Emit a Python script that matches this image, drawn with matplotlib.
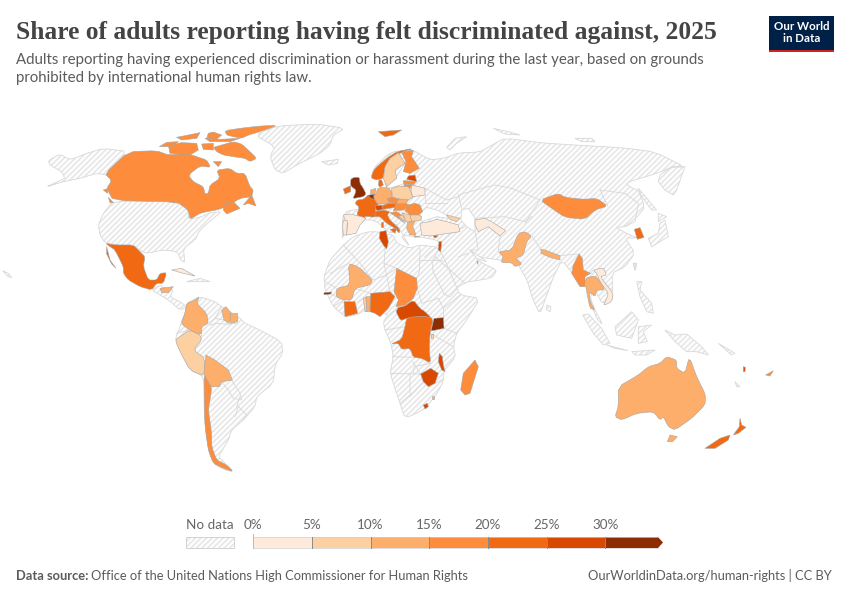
import matplotlib
matplotlib.use("Agg")
import matplotlib.pyplot as plt
from matplotlib.patches import Polygon, Rectangle
import numpy as np

# ---------- data ----------
countries = ["Canada","Mexico","Honduras","Cuba","Colombia","Peru","Bolivia","Chile","Guyana","Suriname",
 "Mali","Ivory Coast","Togo","Benin","Nigeria","Chad","CAR","DRC","Uganda","Burundi","Malawi","Zimbabwe",
 "Madagascar","Lesotho","Eswatini","Gambia","Tunisia",
 "Iceland","Norway","Sweden","Finland","Estonia","Latvia","Lithuania","Denmark","UK","Ireland","France","Netherlands","Belgium",
 "Spain","Portugal","Germany","Poland","Belarus","Czechia","Slovakia","Switzerland","Austria","Hungary","Romania","Bulgaria","Italy",
 "Croatia","Bosnia","Serbia","Greece","Turkey","Cyprus",
 "Georgia","Israel","Lebanon","Turkmenistan","Qatar","Mongolia","South Korea","Pakistan","Nepal","Myanmar","Thailand","Vietnam",
 "Australia","New Zealand","Fiji","Vanuatu"]
values = [17,22,12,3,13,8,12,18,13,12,
 12,22,9,12,22,18,27,22,33,8,27,27,
 17,27,12,33,27,
 22,22,8,17,27,18,18,22,33,22,22,12,33,
 3,3,12,8,3,17,12,27,22,18,18,9,22,
 17,8,8,12,3,18,
 8,27,27,3,12,18,24,12,12,18,12,3,
 12,24,18,27]
bin_edges = [0,5,10,15,20,25,30]
bin_colors = ["#feeadb","#fdd0a2","#fdae6b","#fd8d3c","#f16913","#d94801","#8c2d04"]
tick_labels = ["0%","5%","10%","15%","20%","25%","30%"]

title = "Share of adults reporting having felt discriminated against, 2025"
sub1 = "Adults reporting having experienced discrimination or harassment during the last year, based on grounds"
sub2 = "prohibited by international human rights law."

# outlines: frame name -> origin of the traced sheet (sheet units are 1/3 px)
FR = {"A":(0,110),"B":(425,110),"C":(100,290),"D":(310,250),"E":(330,120),"F":(560,240),"P":None}
def tr(fr,pts,smooth=True):
    a=np.array(pts,float)
    if FR[fr] is not None:
        a=a/3+np.array(FR[fr])
    if smooth and len(a)>=10:
        b=np.roll(a,-1,axis=0); c=0.18
        a=np.column_stack([(1-c)*a+c*b,c*a+(1-c)*b]).reshape(-1,2)
    return a

land = [
("A",[(135,232),(180,212),(195,205),(185,185),(150,165),(145,152),(180,132),(210,150),(260,130),(310,115),(385,125),(315,190),(340,215),(320,195),(290,190),(240,205),(190,215)]),
("A",[(765,75),(830,48),(950,42),(1035,55),(1000,75),(990,105),(960,130),(890,165),(850,190),(825,180),(810,140),(825,110)]),
("A",[(965,155),(1015,148),(1012,160),(985,165)]),
("A",[(340,272),(530,276),(565,300),(565,328),(600,322),(630,308),(665,305),(640,325),(600,360),(585,390),(550,415),(555,458),(542,450),(532,425),(490,420),(440,430),(420,422),(400,405),(345,405),(315,398),(300,375),(295,345),(310,310)]),
("A",[(455,540),(480,525),(495,535),(520,540),(510,560),(540,575),(560,590),(540,600),(505,570),(480,555)]),
("A",[(8,482),(25,490),(35,503),(25,500)]),
("A",[(560,515),(600,505),(630,515),(600,515)]),
("C",[(298,20),(345,35),(365,50),(415,80),(435,100),(470,115),(545,155),(548,190),(525,225),(520,280),(470,320),(465,350),(430,390),(395,420),(385,450),(355,500),(375,520),(400,545),(375,540),(340,520),(325,480),(315,400),(312,340),(312,260),(270,240),(225,150),(240,110),(243,100),(255,70),(260,40)]),
("D",[(45,70),(60,30),(100,-15),(130,-40),(170,-54),(200,-55),(215,-50),(250,-45),(260,-20),(300,-5),(330,-15),(381,-9),(400,20),(435,100),(450,135),(510,145),(470,210),(440,250),(430,290),(437,320),(400,365),(400,395),(375,440),(340,480),(285,505),(270,460),(240,370),(250,320),(243,280),(225,240),(220,215),(235,195),(200,185),(165,180),(140,195),(105,200),(70,170),(45,120),(42,85)]),
("P",[(413,150),(430,160),(445,158),(458,153),(480,152),(492,145),(505,138),(542,143),(575,145),(625,148),(655,152),(685,167),(672,167),(658,173),(625,183),(632,188),(638,190),(645,207),(637,217),(625,227),(615,227),(630,235),(638,238),(625,238),(635,253),(625,267),(612,273),(613,293),(603,305),(595,290),(590,297),(595,310),(603,325),(596,318),(585,283),(572,273),(562,260),(553,278),(545,300),(540,314),(533,300),(527,280),(520,268),(518,262),(500,260),(478,257),(470,250),(480,262),(497,270),(492,278),(462,283),(447,300),(430,265),(441,245),(437,240),(420,237),(400,235),(410,247),(403,235),(395,222),(392,235),(375,220),(355,220),(345,230),(342,240),(343,212),(365,208),(372,195),(388,192),(385,175),(375,180),(372,170),(390,152)]),
("B",[(740,170),(780,170),(755,240),(745,255),(720,240),(700,215),(705,195)]),
("B",[(640,235),(670,270),(695,300),(680,300),(650,260)]),
("B",[(700,310),(725,320),(700,335)]),
("B",[(720,330),(730,380),(680,410),(670,385),(700,370),(705,340)]),
("B",[(65,112),(90,85),(125,80),(95,100),(75,120)]),
("B",[(205,55),(250,65),(285,75),(240,72)]),
("B",[(450,85),(500,85),(510,95),(470,95)]),
("B",[(365,585),(378,590),(375,605),(365,600)]),
("B",[(625,460),(635,460),(630,482)]),
("F",[(68,225),(85,222),(125,265),(150,310),(130,315),(100,280)]),
("F",[(140,315),(205,332),(165,325)]),
("F",[(165,260),(215,215),(235,240),(215,295),(170,285)]),
("F",[(235,260),(275,255),(250,275),(262,305),(235,310)]),
("F",[(230,125),(245,125),(240,150),(275,190),(280,220),(260,215),(240,170)]),
("F",[(315,270),(345,285),(380,282),(425,320),(445,345),(410,335),(380,335),(345,305)]),
("F",[(215,335),(285,330),(260,345),(225,345)]),
("F",[(475,310),(525,340),(515,345)]),
("F",[(525,425),(540,440),(530,440)]),
("F",[(220,70),(230,72),(225,90)]),
]
seas = [
("E",[(270,280),(290,262),(320,270),(350,285),(355,295),(320,290),(275,305)]),
("B",[(110,300),(130,295),(150,325),(150,365),(125,350),(108,330)]),
("E",[(200,170),(225,130),(240,165),(225,190),(195,200),(170,205),(165,190)]),
("B",[(135,420),(185,455),(155,445)]),
]
shapes = {
"Canada":("A",[[(385,125),(470,122),(505,135),(560,130),(590,140),(620,150),(632,172),(600,168),(565,195),(580,215),(610,230),(615,252),(625,250),(630,225),(660,205),(650,180),(690,175),(710,190),(735,190),(750,230),(760,240),(755,260),(720,265),(680,290),(650,300),(620,305),(600,310),(570,328),(565,300),(530,275),(340,272),(320,235),(335,212),(315,190)],
 [(640,112),(665,105),(700,95),(725,102),(750,125),(770,145),(750,155),(735,145),(700,140),(670,135),(650,125)],[(675,62),(720,55),(780,48),(832,46),(800,58),(770,68),(745,75),(725,85),(700,80),(680,75)],
 [(505,105),(545,98),(590,100),(595,120),(570,135),(510,130)],[(478,110),(500,97),(535,95),(515,110)],[(530,82),(565,75),(600,68),(590,85),(545,90)],
 [(625,70),(640,66),(665,75),(650,88),(620,85)],[(615,85),(660,88),(720,85),(690,95),(630,95)],[(605,102),(640,100),(640,120),(610,118)],[(730,285),(755,255),(768,288),(745,280)],
 [(310,240),(325,235),(322,250)],[(670,300),(675,280),(700,275),(720,295),(680,312)],[(325,262),(340,278),(330,278)],[(640,155),(665,155),(655,170)]]),
"Mexico":("A",[[(317,400),(345,405),(400,405),(420,425),(435,440),(430,470),(445,510),(470,510),(480,490),(500,488),(490,520),(470,520),(455,540),(420,530),(385,510),(370,490),(370,470),(345,420),(330,410)],[(320,410),(330,450),(348,475),(335,462),(320,432)]]),
"Honduras":("A",[[(480,535),(520,530),(505,548),(485,548)]]),
"Cuba":("A",[[(515,480),(545,475),(585,498),(550,490)]]),
"Colombia":("C",[[(298,20),(290,40),(320,70),(325,100),(305,110),(305,135),(268,120),(243,100),(255,70),(260,40),(285,30)]]),
"Peru":("C",[[(225,150),(240,140),(268,120),(300,135),(305,150),(280,180),(315,205),(312,258),(270,240),(245,195)]]),
"Bolivia":("C",[[(318,195),(345,210),(385,240),(397,270),(365,275),(358,290),(330,290),(320,275),(312,250)]]),
"Chile":("C",[[(312,255),(322,270),(335,295),(330,330),(325,360),(335,430),(335,470),(350,510),(380,525),(400,545),(370,535),(340,520),(325,480),(315,410),(313,340)]]),
"Guyana":("C",[[(365,60),(378,50),(395,72),(387,100),(372,90)]]),
"Suriname":("C",[[(390,72),(413,70),(412,95),(392,100)]]),
"Mali":("D",[[(115,40),(145,50),(188,90),(180,105),(135,115),(125,150),(100,150),(78,140),(80,115),(120,105)]]),
"Ivory Coast":("D",[[(102,155),(135,155),(143,190),(105,200)]]),
"Togo":("D",[[(160,145),(168,142),(170,185),(165,185)]]),
"Benin":("D",[[(168,140),(182,140),(178,185),(170,185)]]),
"Nigeria":("D",[[(182,130),(240,125),(255,140),(235,175),(210,200),(195,190),(180,185)]]),
"Chad":("D",[[(260,55),(320,85),(322,115),(310,145),(285,165),(258,170),(265,150),(252,125)]]),
"CAR":("D",[[(310,150),(330,175),(345,185),(365,205),(340,198),(290,205),(272,212),(258,185),(265,172),(285,168)]]),
"DRC":("D",[[(290,203),(340,198),(370,205),(360,250),(358,300),(362,340),(335,325),(310,322),(300,295),(275,298),(265,280),(243,282),(275,268),(285,230)]]),
"Uganda":("D",[[(372,205),(400,203),(402,235),(363,243)]]),
"Burundi":("D",[[(364,255),(371,253),(370,265),(364,266)]]),
"Malawi":("D",[[(388,310),(397,320),(400,345),(405,365),(395,360),(385,335)]]),
"Zimbabwe":("D",[[(332,372),(362,355),(385,370),(375,400),(355,410),(340,395)]]),
"Madagascar":("D",[[(495,330),(505,350),(480,430),(465,435),(452,420),(460,370)]]),
"Lesotho":("D",[[(340,465),(352,460),(355,470),(345,477)]]),
"Eswatini":("D",[[(365,438),(373,438),(373,448),(365,448)]]),
"Gambia":("D",[[(42,128),(65,126),(62,132),(42,134)]]),
"Tunisia":("A",[[(1140,365),(1158,362),(1165,395),(1160,417),(1150,405),(1138,385)]]),
"Iceland":("E",[[(145,35),(215,30),(190,45),(165,50)]]),
"Norway":("E",[[(125,165),(135,145),(170,115),(200,95),(250,85),(215,97),(180,115),(165,140),(160,175),(140,180),(125,175)]]),
"Sweden":("E",[[(165,140),(180,115),(205,98),(225,130),(195,150),(200,175),(170,200),(160,175)]]),
"Finland":("E",[[(215,97),(250,90),(245,110),(268,145),(240,160),(220,155),(228,125)]]),
"Estonia":("E",[[(235,168),(255,165),(260,185),(230,178)]]),
"Latvia":("E",[[(220,182),(258,185),(250,195),(220,190)]]),
"Lithuania":("E",[[(222,192),(248,196),(240,205),(225,205)]]),
"Denmark":("E",[[(147,180),(155,180),(160,195),(150,202),(145,195)]]),
"UK":("E",[[(62,178),(72,172),(88,172),(90,190),(100,205),(108,222),(100,230),(68,236),(75,222),(78,210),(62,198)]]),
"Ireland":("E",[[(40,207),(62,197),(62,215),(45,222)]]),
"France":("E",[[(82,240),(100,238),(115,225),(140,238),(148,245),(140,262),(135,270),(145,285),(130,292),(108,288),(100,295),(80,285),(88,262),(75,250)]]),
"Netherlands":("E",[[(122,210),(138,205),(135,222),(122,224)]]),
"Belgium":("E",[[(112,226),(135,223),(142,238),(125,236)]]),
"Spain":("E",[[(40,285),(60,282),(95,290),(108,295),(90,315),(78,340),(50,345),(52,310),(45,300)]]),
"Portugal":("E",[[(40,300),(52,302),(50,345),(40,345),(38,320)]]),
"Germany":("E",[[(142,208),(150,203),(175,203),(185,215),(187,232),(172,236),(178,248),(165,252),(142,252),(135,240),(130,228),(138,222)]]),
"Poland":("E",[[(185,205),(205,198),(235,200),(243,215),(248,232),(235,240),(205,236),(187,232)]]),
"Belarus":("E",[[(245,195),(285,205),(285,225),(248,230),(243,215)]]),
"Czechia":("E",[[(172,236),(187,232),(208,238),(200,250),(178,248)]]),
"Slovakia":("E",[[(205,238),(235,240),(228,250),(200,250)]]),
"Switzerland":("E",[[(135,258),(155,255),(160,268),(140,272)]]),
"Austria":("E",[[(155,258),(175,250),(200,250),(195,262),(160,268)]]),
"Hungary":("E",[[(198,252),(228,250),(235,255),(222,270),(190,272)]]),
"Romania":("E",[[(232,255),(255,250),(270,255),(278,275),(265,285),(240,285),(225,272)]]),
"Bulgaria":("E",[[(240,285),(265,285),(275,290),(272,300),(245,305)]]),
"Italy":("E",[[(135,275),(160,270),(180,275),(172,285),(180,300),(210,328),(208,340),(195,325),(170,310),(150,290),(135,290)],[(152,305),(160,305),(160,320),(152,320)],[(180,328),(200,325),(195,340)]]),
"Croatia":("E",[[(180,278),(200,275),(215,285),(205,290),(225,310),(205,295)]]),
"Bosnia":("E",[[(205,288),(220,287),(225,305)]]),
"Serbia":("E",[[(215,278),(240,285),(245,305),(228,305),(222,288)]]),
"Greece":("E",[[(232,308),(255,303),(248,318),(258,345),(240,345),(230,325)],[(252,348),(270,350),(255,352)]]),
"Turkey":("E",[[(270,310),(300,305),(320,298),(350,305),(385,315),(390,335),(320,345),(300,348),(275,345)]]),
"Cyprus":("E",[[(310,350),(325,347),(320,353)]]),
"Georgia":("B",[[(65,315),(105,325),(95,335),(75,328)]]),
"Israel":("B",[[(42,395),(50,395),(47,425),(40,420)]]),
"Lebanon":("B",[[(25,378),(36,376),(30,384)]]),
"Turkmenistan":("B",[[(150,330),(180,325),(200,335),(242,362),(225,378),(190,350),(160,365),(150,345)]]),
"Qatar":("B",[[(155,452),(160,455),(158,463)]]),
"Mongolia":("B",[[(345,270),(400,250),(420,262),(475,268),(515,265),(548,288),(510,300),(480,328),(420,322),(380,295)]]),
"South Korea":("B",[[(628,358),(645,353),(657,382),(637,388)]]),
"Pakistan":("B",[[(220,425),(260,420),(280,370),(300,365),(320,378),(305,395),(295,435),(272,445),(292,462),(270,470),(260,458),(228,458),(235,440)]]),
"Nepal":("B",[[(348,418),(360,420),(405,437),(405,450),(375,442),(348,430)]]),
"Myanmar":("B",[[(462,432),(472,445),(475,480),(497,490),(480,500),(480,530),(465,530),(440,490),(445,465)]]),
"Thailand":("B",[[(480,505),(510,497),(530,520),(538,540),(515,540),(510,560),(493,545),(495,575),(510,600),(495,595),(485,545)]]),
"Vietnam":("B",[[(505,480),(535,473),(545,495),(525,500),(565,550),(560,575),(535,587),(545,565),(550,550),(525,515),(515,490)]]),
"Australia":("F",[[(165,530),(175,500),(175,440),(235,405),(265,380),(300,370),(320,350),(350,360),(350,385),(375,400),(388,350),(410,410),(437,465),(435,495),(395,535),(345,570),(325,560),(310,530),(300,540),(280,515),(230,520),(185,540)],[(322,605),(330,585),(352,590),(338,605)]]),
"New Zealand":("F",[[(435,625),(480,595),(510,585),(505,600),(465,625)],[(520,585),(538,560),(540,535),(545,555),(558,562),(535,580)]]),
"Fiji":("F",[[(617,405),(640,392),(630,408)]]),
"Vanuatu":("F",[[(550,380),(556,382),(555,395),(550,395)]]),
}
# borders inside the no-data land
borders = [
("C",[(365,275),(395,270),(420,310),(425,330),(400,325),(385,300),(365,275)]),
("C",[(405,380),(415,350),(440,375),(430,390)]),
("C",[(325,100),(345,85),(370,90)]),("C",[(345,85),(365,50)]),("C",[(305,135),(280,180)]),("C",[(228,130),(268,120)]),
("C",[(420,320),(410,350)]),("C",[(415,85),(410,100),(385,103),(350,100),(330,105)]),
("D",[(100,-15),(150,40),(188,90),(230,75),(260,55)]),("D",[(215,-50),(225,0),(222,40),(260,55)]),
("D",[(330,-5),(328,65),(320,85)]),("D",[(328,30),(395,30)]),("D",[(322,115),(335,160),(385,145),(400,175),(450,135)]),
("D",[(400,175),(400,203)]),("D",[(402,235),(440,250)]),("D",[(362,250),(430,290)]),("D",[(60,70),(115,40)]),("D",[(45,95),(80,115)]),
("D",[(60,130),(78,140)]),("D",[(135,115),(182,130)]),("D",[(143,155),(160,145)]),("D",[(240,125),(222,40)]),
("D",[(240,370),(330,372)]),("D",[(250,320),(310,322)]),("D",[(308,335),(332,372)]),("D",[(300,372),(300,435),(270,460)]),
("D",[(310,370),(312,350),(362,340)]),("D",[(375,400),(395,390)]),("D",[(340,395),(300,440)]),("D",[(225,240),(285,230)]),
("D",[(235,195),(265,172)]),("D",[(70,170),(100,150)]),
("B",[(100,255),(170,235),(210,225),(260,235),(345,270)]),("B",[(100,255),(110,295)]),("B",[(150,325),(240,320),(300,335),(320,320)]),
("B",[(345,270),(325,300),(300,340)]),("B",[(548,288),(525,240),(600,250),(640,280),(630,335),(600,350)]),
("B",[(150,365),(160,420),(135,420)]),("B",[(220,425),(225,375)]),("B",[(320,378),(348,418)]),("B",[(405,437),(462,432)]),
("B",[(120,350),(85,365),(0,440)]),("B",[(30,440),(120,520)]),("B",[(100,440),(130,430)]),("B",[(20,350),(100,360)]),
("B",[(497,490),(505,480)]),
("E",[(285,205),(350,240),(385,230)]),("E",[(285,225),(285,250),(350,250)]),
]
# ---------- drawing ----------
plt.rcParams["hatch.linewidth"]=1.3
fig=plt.figure(figsize=(8.5,6),dpi=100)
ax=fig.add_axes([0,0,1,1]); ax.set_xlim(0,850); ax.set_ylim(600,0); ax.axis("off")
HATCH="#e8e8e8"; EDGE="#d8d8d8"
def col(v):
    return bin_colors[int(np.searchsorted(bin_edges,v,side="right"))-1]
for fr,p in land:
    xy=tr(fr,p)
    ax.add_patch(Polygon(xy,closed=True,facecolor="white",edgecolor=HATCH,hatch="//////",lw=0,zorder=1))
    ax.add_patch(Polygon(xy,closed=True,fill=False,edgecolor=EDGE,lw=0.6,zorder=2))
for fr,p in seas:
    ax.add_patch(Polygon(tr(fr,p),closed=True,facecolor="white",edgecolor=EDGE,lw=0.6,zorder=2.5))
for fr,p in borders:
    xy=tr(fr,p,False); ax.plot(xy[:,0],xy[:,1],color=EDGE,lw=0.6,zorder=3)
for c,v in zip(countries,values):
    fr,polys=shapes[c]
    for p in polys:
        ax.add_patch(Polygon(tr(fr,p),closed=True,facecolor=col(v),edgecolor="#a5a5a5",lw=0.4,zorder=4,joinstyle="round"))
# legend
x0=253.3; k=11.73; ly0=537; lh=11
ends=bin_edges[1:]+[34.5]
for a,b,c in zip(bin_edges,ends,bin_colors):
    ax.add_patch(Rectangle((x0+a*k,ly0),(b-a)*k,lh,facecolor=c,edgecolor="none",zorder=5))
xe=x0+ends[-1]*k
ax.add_patch(Polygon([(xe,ly0),(xe+5,ly0+lh/2),(xe,ly0+lh)],closed=True,facecolor=bin_colors[-1],edgecolor="none",zorder=5))
ax.plot([x0,xe],[ly0,ly0],color="#cfcfcf",lw=0.5,zorder=6); ax.plot([x0,xe],[ly0+lh,ly0+lh],color="#cfcfcf",lw=0.5,zorder=6)
for e,t in zip(bin_edges,tick_labels):
    x=x0+e*k
    ax.plot([x,x],[ly0-3 if e==0 else ly0,ly0+lh],color="#8a8a8a" if e else "#bbbbbb",lw=0.7,zorder=7)
    ax.text(x,525,t,ha="center",va="center",fontsize=9.7,family="Lato",color="#666666")
ax.add_patch(Rectangle((186,537),48,11,facecolor="white",edgecolor=HATCH,hatch="//////",lw=0))
ax.add_patch(Rectangle((186,537),48,11,fill=False,edgecolor="#cccccc",lw=0.6))
ax.text(210,525,"No data",ha="center",va="center",fontsize=9.7,family="Lato",color="#666666")
# text
ax.text(16,32,title,ha="left",va="center",fontsize=18.38,family="Liberation Serif",weight="bold",color="#444444")
ax.text(16,60,sub1,ha="left",va="center",fontsize=10.77,family="Lato",color="#5b5b5b")
ax.text(16,78,sub2,ha="left",va="center",fontsize=10.77,family="Lato",color="#5b5b5b")
ax.text(16,576,"Data source:",ha="left",va="center",fontsize=9.3,family="Lato",weight="bold",color="#5b5b5b")
ax.text(91,576,"Office of the United Nations High Commissioner for Human Rights",ha="left",va="center",fontsize=9.3,family="Lato",color="#5b5b5b")
ax.text(832,576,"OurWorldinData.org/human-rights | CC BY",ha="right",va="center",fontsize=9.32,family="Lato",color="#5b5b5b")
# logo
ax.add_patch(Rectangle((769,16),65,36,facecolor="#002147",edgecolor="none",zorder=5))
ax.add_patch(Rectangle((769,49.5),65,2.5,facecolor="#ce261e",edgecolor="none",zorder=6))
ax.text(801.5,26.5,"Our World",ha="center",va="center",fontsize=8.3,family="Lato",weight="bold",color="white",zorder=7)
ax.text(801.5,38.5,"in Data",ha="center",va="center",fontsize=8.3,family="Lato",weight="bold",color="white",zorder=7)
fig.savefig("out.png",dpi=100)
